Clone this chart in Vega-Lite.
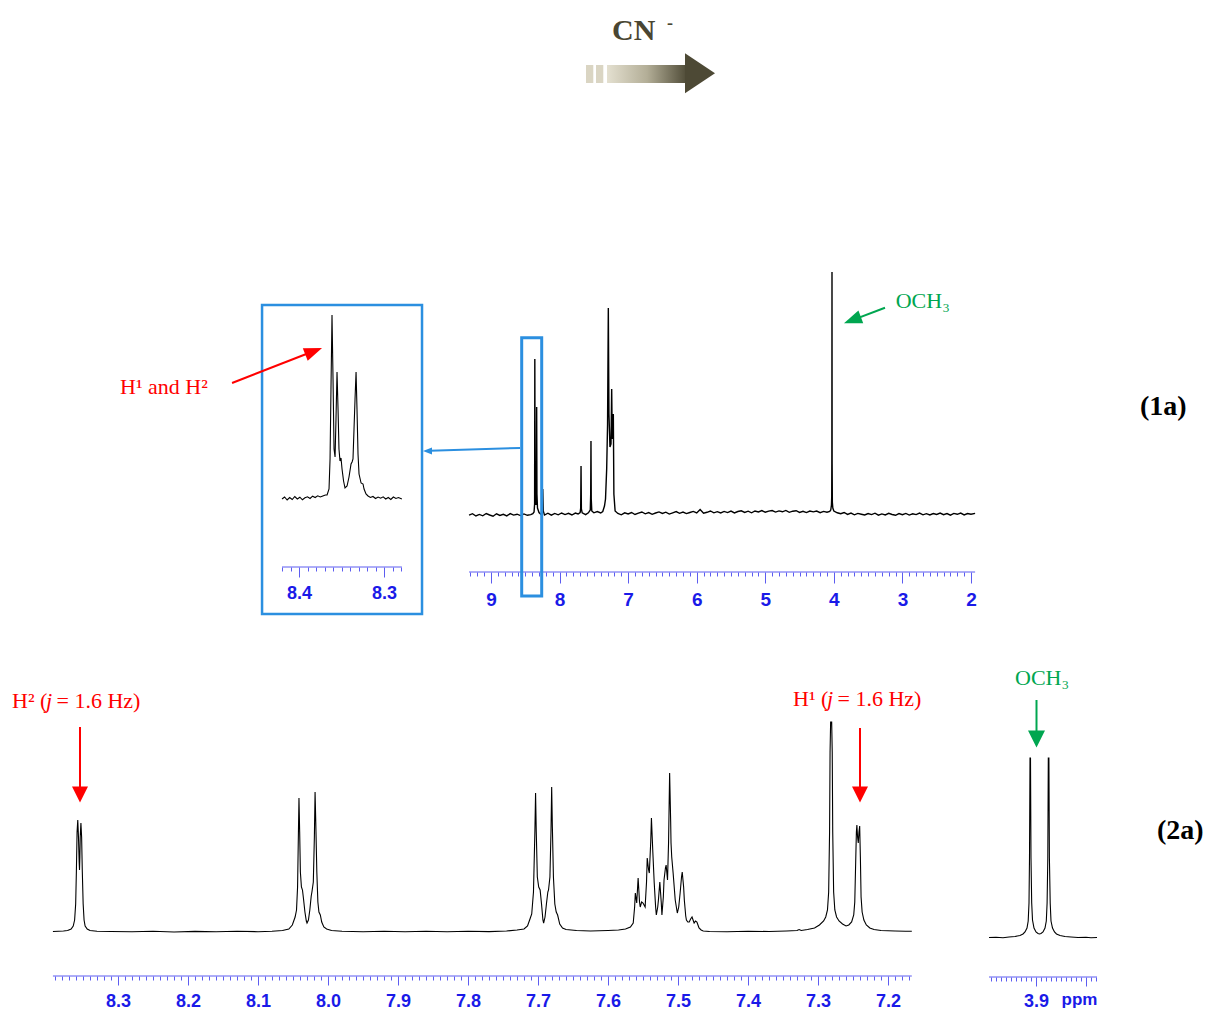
{
"$schema": "https://vega.github.io/schema/vega-lite/v6.json",
"width": 1208, "height": 1009, "padding": 0,
"autosize": {"type": "none"},
"background": "white",
"config": {"view": {"stroke": null},
 "axis": {"domain": false, "grid": false, "labelFont": "Liberation Sans", "labelFontWeight": "bold", "labelColor": "#1a1ae8", "tickColor": "#5c5cf0", "tickWidth": 1, "labelOverlap": false, "labelFlush": false, "labelBound": false, "labelAlign": "center"}},
"datasets": {
"s1a": [
{"ppm":9.32,"I":-1.2},{"ppm":9.27,"I":0.3},{"ppm":9.22,"I":-2.0},{"ppm":9.17,"I":-0.4},{"ppm":9.12,"I":-1.8},{"ppm":9.07,"I":0.5},{"ppm":9.02,"I":-1.0},{"ppm":8.97,"I":-2.2},{"ppm":8.92,"I":0.2},{"ppm":8.87,"I":-1.5},{"ppm":8.82,"I":-0.3},{"ppm":8.77,"I":-1.9},{"ppm":8.72,"I":0.4},{"ppm":8.67,"I":-1.1},{"ppm":8.62,"I":-0.2},{"ppm":8.57,"I":-1.6},{"ppm":8.52,"I":0.1},{"ppm":8.47,"I":-1.3},{"ppm":8.42,"I":-0.6},{"ppm":8.39,"I":0.4},
{"ppm":8.372,"I":2},{"ppm":8.364,"I":10},{"ppm":8.361,"I":155},{"ppm":8.357,"I":40},{"ppm":8.35,"I":15},{"ppm":8.344,"I":9},{"ppm":8.338,"I":30},{"ppm":8.334,"I":107},{"ppm":8.33,"I":20},{"ppm":8.322,"I":6},{"ppm":8.3,"I":1.5},{"ppm":8.27,"I":-0.5},{"ppm":8.252,"I":3},{"ppm":8.245,"I":25},{"ppm":8.238,"I":3},
{"ppm":8.22,"I":-1.0},{"ppm":8.17,"I":0.8},{"ppm":8.12,"I":-1.2},{"ppm":8.07,"I":0.6},{"ppm":8.02,"I":-0.8},{"ppm":7.97,"I":1.0},{"ppm":7.92,"I":-0.6},{"ppm":7.87,"I":0.7},{"ppm":7.82,"I":-1.0},{"ppm":7.77,"I":0.9},{"ppm":7.73,"I":0.0},{"ppm":7.7,"I":1.5},
{"ppm":7.692,"I":6},{"ppm":7.687,"I":48},{"ppm":7.682,"I":5},{"ppm":7.67,"I":1.2},{"ppm":7.62,"I":-0.6},{"ppm":7.58,"I":1.2},{"ppm":7.552,"I":4},{"ppm":7.546,"I":20},{"ppm":7.542,"I":73},{"ppm":7.538,"I":15},{"ppm":7.53,"I":3},{"ppm":7.5,"I":1.2},{"ppm":7.45,"I":2.5},{"ppm":7.4,"I":1.0},
{"ppm":7.37,"I":2.5},{"ppm":7.345,"I":8},{"ppm":7.33,"I":15},{"ppm":7.313,"I":45},{"ppm":7.3,"I":90},{"ppm":7.289,"I":206},{"ppm":7.28,"I":100},{"ppm":7.265,"I":67},{"ppm":7.25,"I":70},{"ppm":7.24,"I":125},{"ppm":7.232,"I":75},{"ppm":7.216,"I":100},{"ppm":7.208,"I":20},{"ppm":7.19,"I":3},{"ppm":7.15,"I":0.5},
{"ppm":7.1,"I":-0.8},{"ppm":7.05,"I":1.2},{"ppm":7.0,"I":0.0},{"ppm":6.95,"I":1.5},{"ppm":6.9,"I":-0.5},{"ppm":6.85,"I":0.8},{"ppm":6.8,"I":2.0},{"ppm":6.75,"I":0.2},{"ppm":6.7,"I":1.4},{"ppm":6.65,"I":-0.3},{"ppm":6.6,"I":1.0},{"ppm":6.55,"I":2.1},{"ppm":6.5,"I":0.6},{"ppm":6.45,"I":1.8},{"ppm":6.4,"I":-0.1},{"ppm":6.35,"I":1.2},{"ppm":6.3,"I":2.4},{"ppm":6.25,"I":0.7},{"ppm":6.2,"I":1.9},{"ppm":6.15,"I":0.4},{"ppm":6.1,"I":1.5},{"ppm":6.05,"I":2.6},{"ppm":6.0,"I":1.0},{"ppm":5.95,"I":4.5},{"ppm":5.9,"I":0.8},{"ppm":5.85,"I":1.7},{"ppm":5.8,"I":3.0},{"ppm":5.75,"I":1.2},{"ppm":5.7,"I":2.3},{"ppm":5.65,"I":1.0},{"ppm":5.6,"I":2.6},{"ppm":5.55,"I":1.4},{"ppm":5.5,"I":2.9},{"ppm":5.45,"I":1.1},{"ppm":5.4,"I":2.5},{"ppm":5.35,"I":3.2},{"ppm":5.3,"I":1.6},{"ppm":5.25,"I":2.8},{"ppm":5.2,"I":1.2},{"ppm":5.15,"I":3.0},{"ppm":5.1,"I":2.0},{"ppm":5.05,"I":3.4},{"ppm":5.0,"I":1.8},{"ppm":4.95,"I":2.9},{"ppm":4.9,"I":3.5},{"ppm":4.85,"I":1.9},{"ppm":4.8,"I":3.1},{"ppm":4.75,"I":2.2},{"ppm":4.7,"I":3.6},{"ppm":4.65,"I":1.7},{"ppm":4.6,"I":2.8},{"ppm":4.55,"I":3.3},{"ppm":4.5,"I":1.6},{"ppm":4.45,"I":2.7},{"ppm":4.4,"I":1.4},{"ppm":4.35,"I":3.0},{"ppm":4.3,"I":2.1},{"ppm":4.25,"I":2.9},{"ppm":4.2,"I":1.3},{"ppm":4.15,"I":2.6},{"ppm":4.1,"I":1.8},{"ppm":4.06,"I":2.5},
{"ppm":4.045,"I":4},{"ppm":4.035,"I":9},{"ppm":4.031,"I":17},{"ppm":4.029,"I":60},{"ppm":4.027,"I":242},{"ppm":4.025,"I":50},{"ppm":4.022,"I":12},{"ppm":4.015,"I":6},{"ppm":4.0,"I":3},
{"ppm":3.95,"I":1.2},{"ppm":3.9,"I":0.3},{"ppm":3.85,"I":1.5},{"ppm":3.8,"I":-0.4},{"ppm":3.75,"I":0.9},{"ppm":3.7,"I":-0.8},{"ppm":3.65,"I":0.6},{"ppm":3.6,"I":-0.2},{"ppm":3.55,"I":-1.0},{"ppm":3.5,"I":0.5},{"ppm":3.45,"I":-0.6},{"ppm":3.4,"I":0.8},{"ppm":3.35,"I":-1.2},{"ppm":3.3,"I":0.1},{"ppm":3.25,"I":-0.9},{"ppm":3.2,"I":0.7},{"ppm":3.15,"I":-0.5},{"ppm":3.1,"I":-1.3},{"ppm":3.05,"I":0.4},{"ppm":3.0,"I":-0.7},{"ppm":2.95,"I":0.6},{"ppm":2.9,"I":-1.1},{"ppm":2.85,"I":0.2},{"ppm":2.8,"I":-0.6},{"ppm":2.75,"I":0.9},{"ppm":2.7,"I":-0.8},{"ppm":2.65,"I":0.3},{"ppm":2.6,"I":-1.0},{"ppm":2.55,"I":0.5},{"ppm":2.5,"I":-0.4},{"ppm":2.45,"I":1.0},{"ppm":2.4,"I":-0.7},{"ppm":2.35,"I":0.4},{"ppm":2.3,"I":-1.2},{"ppm":2.25,"I":0.6},{"ppm":2.2,"I":-0.3},{"ppm":2.15,"I":0.9},{"ppm":2.1,"I":-0.9},{"ppm":2.05,"I":0.5},{"ppm":2.0,"I":-0.2},{"ppm":1.94,"I":0.6}
],
"inset": [
{"ppm":8.42,"I":0},{"ppm":8.417,"I":2},{"ppm":8.414,"I":-1},{"ppm":8.411,"I":1.5},{"ppm":8.408,"I":-0.5},{"ppm":8.405,"I":2.5},{"ppm":8.402,"I":0},{"ppm":8.399,"I":1.8},{"ppm":8.396,"I":-0.8},{"ppm":8.393,"I":1.2},{"ppm":8.39,"I":2.2},{"ppm":8.387,"I":0.5},{"ppm":8.384,"I":2.8},{"ppm":8.381,"I":1.5},{"ppm":8.378,"I":3.2},{"ppm":8.375,"I":2.0},{"ppm":8.372,"I":3.0},{"ppm":8.369,"I":4.0},
{"ppm":8.367,"I":4},{"ppm":8.3647,"I":10},{"ppm":8.3635,"I":40},{"ppm":8.3624,"I":110},{"ppm":8.3612,"I":184},{"ppm":8.36,"I":120},{"ppm":8.3588,"I":50},{"ppm":8.3576,"I":42},{"ppm":8.3565,"I":80},{"ppm":8.3553,"I":127},{"ppm":8.3541,"I":90},{"ppm":8.353,"I":50},{"ppm":8.3518,"I":38},{"ppm":8.3506,"I":41},{"ppm":8.3494,"I":30},{"ppm":8.3476,"I":18},{"ppm":8.3459,"I":11},{"ppm":8.3435,"I":13},{"ppm":8.3412,"I":22},{"ppm":8.3388,"I":35},{"ppm":8.3376,"I":37},{"ppm":8.3365,"I":40},{"ppm":8.3353,"I":70},{"ppm":8.3341,"I":100},{"ppm":8.3329,"I":127},{"ppm":8.3318,"I":90},{"ppm":8.3306,"I":45},{"ppm":8.3294,"I":25},{"ppm":8.327,"I":16},{"ppm":8.3247,"I":15},{"ppm":8.3235,"I":10},{"ppm":8.3212,"I":5},{"ppm":8.3188,"I":3},
{"ppm":8.316,"I":1.5},{"ppm":8.313,"I":2.5},{"ppm":8.31,"I":0.5},{"ppm":8.307,"I":2},{"ppm":8.304,"I":0.8},{"ppm":8.301,"I":2.2},{"ppm":8.298,"I":0},{"ppm":8.295,"I":1.5},{"ppm":8.292,"I":-0.5},{"ppm":8.289,"I":2},{"ppm":8.286,"I":0.5},{"ppm":8.283,"I":1.5},{"ppm":8.279,"I":0}
],
"s2a": [
{"ppm":8.393,"I":0.5},{"ppm":8.385,"I":0.8},{"ppm":8.378,"I":1},{"ppm":8.372,"I":1.5},{"ppm":8.367,"I":3},{"ppm":8.364,"I":6},{"ppm":8.362,"I":12},{"ppm":8.3605,"I":28},{"ppm":8.3595,"I":60},{"ppm":8.3585,"I":100},{"ppm":8.3575,"I":112},{"ppm":8.3565,"I":95},{"ppm":8.3555,"I":70},{"ppm":8.355,"I":62},{"ppm":8.3545,"I":75},{"ppm":8.354,"I":95},{"ppm":8.353,"I":109},{"ppm":8.352,"I":95},{"ppm":8.351,"I":60},{"ppm":8.3498,"I":28},{"ppm":8.3485,"I":12},{"ppm":8.347,"I":6},{"ppm":8.344,"I":3},{"ppm":8.34,"I":1.5},{"ppm":8.33,"I":0.8},{"ppm":8.31,"I":0.5},{"ppm":8.28,"I":0.2},{"ppm":8.25,"I":0.8},{"ppm":8.22,"I":0},{"ppm":8.19,"I":0.6},{"ppm":8.16,"I":0.2},{"ppm":8.13,"I":0.8},{"ppm":8.1,"I":0.3},{"ppm":8.08,"I":0.8},
{"ppm":8.065,"I":1.5},{"ppm":8.056,"I":3},{"ppm":8.051,"I":7},{"ppm":8.048,"I":13},{"ppm":8.047,"I":15},{"ppm":8.045,"I":22},{"ppm":8.0435,"I":45},{"ppm":8.0425,"I":90},{"ppm":8.0415,"I":134},{"ppm":8.0405,"I":100},{"ppm":8.0395,"I":60},{"ppm":8.038,"I":45},{"ppm":8.0365,"I":42},{"ppm":8.035,"I":33},{"ppm":8.033,"I":20},{"ppm":8.031,"I":11},{"ppm":8.03,"I":9},{"ppm":8.028,"I":12},{"ppm":8.026,"I":22},{"ppm":8.024,"I":36},{"ppm":8.023,"I":40},{"ppm":8.021,"I":50},{"ppm":8.0195,"I":95},{"ppm":8.0185,"I":140},{"ppm":8.0175,"I":110},{"ppm":8.016,"I":60},{"ppm":8.0145,"I":30},{"ppm":8.013,"I":20},{"ppm":8.011,"I":17},{"ppm":8.009,"I":10},{"ppm":8.006,"I":5},{"ppm":8.002,"I":3},{"ppm":7.995,"I":1.5},
{"ppm":7.98,"I":0.8},{"ppm":7.95,"I":0.3},{"ppm":7.92,"I":0.8},{"ppm":7.89,"I":0.2},{"ppm":7.86,"I":0.7},{"ppm":7.83,"I":0.2},{"ppm":7.8,"I":0.8},{"ppm":7.77,"I":0.4},{"ppm":7.745,"I":1},{"ppm":7.73,"I":2},{"ppm":7.72,"I":3},
{"ppm":7.715,"I":6},{"ppm":7.712,"I":12},{"ppm":7.711,"I":14},{"ppm":7.709,"I":18},{"ppm":7.7065,"I":40},{"ppm":7.7045,"I":100},{"ppm":7.7035,"I":139},{"ppm":7.7025,"I":100},{"ppm":7.701,"I":55},{"ppm":7.699,"I":45},{"ppm":7.697,"I":42},{"ppm":7.695,"I":28},{"ppm":7.693,"I":12},{"ppm":7.692,"I":9},{"ppm":7.69,"I":15},{"ppm":7.688,"I":28},{"ppm":7.686,"I":40},{"ppm":7.685,"I":42},{"ppm":7.683,"I":55},{"ppm":7.6815,"I":100},{"ppm":7.6805,"I":145},{"ppm":7.6795,"I":105},{"ppm":7.678,"I":55},{"ppm":7.676,"I":28},{"ppm":7.674,"I":20},{"ppm":7.672,"I":17},{"ppm":7.669,"I":8},{"ppm":7.665,"I":4},{"ppm":7.66,"I":2.5},{"ppm":7.645,"I":1.5},{"ppm":7.625,"I":1},{"ppm":7.6,"I":1.5},{"ppm":7.585,"I":2},{"ppm":7.575,"I":3},
{"ppm":7.568,"I":5},{"ppm":7.564,"I":9},{"ppm":7.562,"I":25},{"ppm":7.561,"I":39},{"ppm":7.559,"I":29},{"ppm":7.557,"I":54},{"ppm":7.555,"I":30},{"ppm":7.554,"I":25},{"ppm":7.552,"I":30},{"ppm":7.55,"I":29},{"ppm":7.547,"I":25},{"ppm":7.545,"I":50},{"ppm":7.544,"I":74},{"ppm":7.542,"I":62},{"ppm":7.541,"I":59},{"ppm":7.539,"I":90},{"ppm":7.538,"I":114},{"ppm":7.536,"I":80},{"ppm":7.534,"I":49},{"ppm":7.532,"I":25},{"ppm":7.531,"I":17},{"ppm":7.529,"I":25},{"ppm":7.528,"I":32},{"ppm":7.526,"I":50},{"ppm":7.524,"I":30},{"ppm":7.523,"I":17},{"ppm":7.521,"I":35},{"ppm":7.52,"I":52},{"ppm":7.518,"I":64},{"ppm":7.517,"I":67},{"ppm":7.515,"I":52},{"ppm":7.5135,"I":90},{"ppm":7.512,"I":159},{"ppm":7.5105,"I":110},{"ppm":7.51,"I":89},{"ppm":7.509,"I":75},{"ppm":7.507,"I":59},{"ppm":7.504,"I":32},{"ppm":7.501,"I":19},{"ppm":7.499,"I":25},{"ppm":7.497,"I":39},{"ppm":7.495,"I":55},{"ppm":7.494,"I":60},{"ppm":7.492,"I":45},{"ppm":7.491,"I":32},{"ppm":7.489,"I":16},{"ppm":7.488,"I":12},{"ppm":7.486,"I":10},{"ppm":7.484,"I":10},{"ppm":7.482,"I":13},{"ppm":7.48,"I":15},{"ppm":7.478,"I":11},{"ppm":7.477,"I":9},{"ppm":7.475,"I":11},{"ppm":7.473,"I":10},{"ppm":7.471,"I":6},{"ppm":7.47,"I":4},{"ppm":7.467,"I":2},{"ppm":7.464,"I":1},
{"ppm":7.455,"I":0.5},{"ppm":7.43,"I":0.3},{"ppm":7.4,"I":0.8},{"ppm":7.37,"I":0.5},{"ppm":7.345,"I":1},{"ppm":7.33,"I":1.5},{"ppm":7.327,"I":2.5},{"ppm":7.324,"I":1.5},{"ppm":7.315,"I":2.5},{"ppm":7.305,"I":4},{"ppm":7.298,"I":7},{"ppm":7.292,"I":11},{"ppm":7.289,"I":15},{"ppm":7.2865,"I":22},{"ppm":7.2848,"I":40},{"ppm":7.2835,"I":100},{"ppm":7.2828,"I":180},{"ppm":7.282,"I":210},{"ppm":7.2805,"I":210},{"ppm":7.2797,"I":180},{"ppm":7.279,"I":100},{"ppm":7.2777,"I":40},{"ppm":7.276,"I":22},{"ppm":7.2735,"I":15},{"ppm":7.27,"I":11},{"ppm":7.265,"I":8},{"ppm":7.26,"I":6},{"ppm":7.256,"I":7},{"ppm":7.252,"I":10},{"ppm":7.249,"I":17},{"ppm":7.2475,"I":30},{"ppm":7.2462,"I":70},{"ppm":7.2452,"I":100},{"ppm":7.2445,"I":107},{"ppm":7.2435,"I":95},{"ppm":7.2425,"I":89},{"ppm":7.2415,"I":100},{"ppm":7.2405,"I":106},{"ppm":7.2395,"I":75},{"ppm":7.2385,"I":35},{"ppm":7.237,"I":20},{"ppm":7.2345,"I":12},{"ppm":7.231,"I":7},{"ppm":7.226,"I":4},{"ppm":7.22,"I":2.5},{"ppm":7.21,"I":1.5},{"ppm":7.19,"I":1},{"ppm":7.175,"I":0.8},{"ppm":7.166,"I":0.8}
],
"s3": [
{"ppm":3.947,"I":0.5},{"ppm":3.94,"I":0.8},{"ppm":3.933,"I":0.3},{"ppm":3.927,"I":1},{"ppm":3.921,"I":1.5},{"ppm":3.916,"I":2.5},{"ppm":3.913,"I":4},{"ppm":3.911,"I":6},{"ppm":3.909,"I":10},{"ppm":3.9078,"I":17},{"ppm":3.907,"I":35},{"ppm":3.9065,"I":80},{"ppm":3.906,"I":180},{"ppm":3.9055,"I":180},{"ppm":3.905,"I":80},{"ppm":3.9043,"I":35},{"ppm":3.9035,"I":18},{"ppm":3.902,"I":10},{"ppm":3.9,"I":6},{"ppm":3.898,"I":4.5},{"ppm":3.8965,"I":4},{"ppm":3.895,"I":4.5},{"ppm":3.893,"I":6},{"ppm":3.891,"I":10},{"ppm":3.8897,"I":17},{"ppm":3.8889,"I":35},{"ppm":3.8882,"I":80},{"ppm":3.8877,"I":180},{"ppm":3.8871,"I":180},{"ppm":3.8866,"I":80},{"ppm":3.8858,"I":35},{"ppm":3.885,"I":17},{"ppm":3.8835,"I":10},{"ppm":3.8815,"I":6},{"ppm":3.8795,"I":4},{"ppm":3.876,"I":2.5},{"ppm":3.871,"I":1.5},{"ppm":3.865,"I":1},{"ppm":3.858,"I":0.5},{"ppm":3.85,"I":0.8},{"ppm":3.845,"I":0.3},{"ppm":3.839,"I":0.5}
]
},
"resolve": {"scale": {"x": "independent", "y": "independent"}, "axis": {"x": "independent", "y": "independent"}},
"layer": [
{"resolve": {"axis": {"x": "independent"}},
 "layer": [
 {"data": {"name": "s1a"}, "mark": {"type": "line", "color": "#000000", "strokeWidth": 1.4},
  "encoding": {
   "x": {"field": "ppm", "type": "quantitative", "scale": {"domain": [-1.4565, 16.1606], "reverse": true, "nice": false, "zero": false},
    "axis": {"orient": "bottom", "offset": -437, "title": null, "labelFontSize": 19, "labelPadding": 7, "tickSize": 11, "format": "d",
     "values": [9,8,7,6,5,4,3,2]}},
   "y": {"field": "I", "type": "quantitative", "scale": {"domain": [-495, 514], "nice": false, "zero": false}, "axis": null}}},
 {"data": {"values": [{"ppm": 9.32, "ppm2": 1.94, "I": -58}]}, "mark": {"type": "rule", "color": "#5c5cf0", "strokeWidth": 1},
  "encoding": {"x": {"field": "ppm", "type": "quantitative",
    "axis": {"orient": "bottom", "offset": -437, "title": null, "labels": false, "tickSize": 4,
     "values": [9.3,9.2,9.1,8.9,8.8,8.7,8.6,8.5,8.4,8.3,8.2,8.1,7.9,7.8,7.7,7.6,7.5,7.4,7.3,7.2,7.1,6.9,6.8,6.7,6.6,6.5,6.4,6.3,6.2,6.1,5.9,5.8,5.7,5.6,5.5,5.4,5.3,5.2,5.1,4.9,4.8,4.7,4.6,4.5,4.4,4.3,4.2,4.1,3.9,3.8,3.7,3.6,3.5,3.4,3.3,3.2,3.1,2.9,2.8,2.7,2.6,2.5,2.4,2.3,2.2,2.1]}},
   "x2": {"field": "ppm2"}, "y": {"field": "I", "type": "quantitative", "axis": null}}},
 {"data": {"values": [{"ppm": 8.5523, "ppm2": 8.2606, "I": 176.3, "I2": -82}]}, "mark": {"type": "rect", "filled": false, "color": "#2b8fe0", "strokeWidth": 3},
  "encoding": {"x": {"field": "ppm", "type": "quantitative", "axis": null}, "x2": {"field": "ppm2"}, "y": {"field": "I", "type": "quantitative", "axis": null}, "y2": {"field": "I2"}}},
 {"data": {"values": [{"ppm": 8.577, "ppm2": 9.889, "I": 66, "I2": 63.2}]}, "mark": {"type": "rule", "color": "#2b8fe0", "strokeWidth": 2},
  "encoding": {"x": {"field": "ppm", "type": "quantitative", "axis": null}, "x2": {"field": "ppm2"}, "y": {"field": "I", "type": "quantitative", "axis": null}, "y2": {"field": "I2"}}},
 {"data": {"values": [{"ppm": 9.926, "I": 63}]}, "mark": {"type": "point", "filled": true, "opacity": 1, "color": "#2b8fe0", "shape": "M 1 -0.8 L -1 0 L 1 0.8 Z", "size": 81},
  "encoding": {"x": {"field": "ppm", "type": "quantitative", "axis": null}, "y": {"field": "I", "type": "quantitative", "axis": null}}},
 {"data": {"values": [{"ppm": 3.254, "ppm2": 3.7295, "I": 206.3, "I2": 193.9}]}, "mark": {"type": "rule", "color": "#00a650", "strokeWidth": 2},
  "encoding": {"x": {"field": "ppm", "type": "quantitative", "axis": null}, "x2": {"field": "ppm2"}, "y": {"field": "I", "type": "quantitative", "axis": null}, "y2": {"field": "I2"}}},
 {"data": {"values": [{"ppm": 3.7295, "I": 193.9}]}, "mark": {"type": "point", "filled": true, "opacity": 1, "color": "#00a650", "shape": "M -1 -0.75 L 1 0 L -1 0.75 Z", "size": 324, "angle": 159.2},
  "encoding": {"x": {"field": "ppm", "type": "quantitative", "axis": null}, "y": {"field": "I", "type": "quantitative", "axis": null}}},
 {"data": {"values": [{"ppm": 3.098, "I": 206, "label": "OCH₃"}]}, "mark": {"type": "text", "align": "left", "baseline": "alphabetic", "font": "Liberation Serif", "fontSize": 22, "color": "#00a650"},
  "encoding": {"x": {"field": "ppm", "type": "quantitative", "axis": null}, "y": {"field": "I", "type": "quantitative", "axis": null}, "text": {"field": "label"}}},
 {"data": {"values": [{"ppm": 7.6146, "ppm2": 7.5081, "I": 449, "I2": 431}, {"ppm": 7.4687, "ppm2": 7.3623, "I": 449, "I2": 431}]}, "mark": {"type": "rect", "color": "#dad5c3"},
  "encoding": {"x": {"field": "ppm", "type": "quantitative", "axis": null}, "x2": {"field": "ppm2"}, "y": {"field": "I", "type": "quantitative", "axis": null}, "y2": {"field": "I2"}}},
 {"data": {"values": [{"ppm": 7.3083, "ppm2": 6.1416, "I": 449, "I2": 431}]}, "mark": {"type": "rect", "color": {"gradient": "linear", "x1": 0, "x2": 1, "y1": 0, "y2": 0, "stops": [{"offset": 0, "color": "#e4e0d0"}, {"offset": 0.5, "color": "#b3ae97"}, {"offset": 1, "color": "#4f4b37"}]}},
  "encoding": {"x": {"field": "ppm", "type": "quantitative", "axis": null}, "x2": {"field": "ppm2"}, "y": {"field": "I", "type": "quantitative", "axis": null}, "y2": {"field": "I2"}}},
 {"data": {"values": [{"ppm": 5.952, "I": 440.7}]}, "mark": {"type": "point", "filled": true, "opacity": 1, "color": "#4d4935", "shape": "M -0.75 -1 L 0.75 0 L -0.75 1 Z", "size": 1600},
  "encoding": {"x": {"field": "ppm", "type": "quantitative", "axis": null}, "y": {"field": "I", "type": "quantitative", "axis": null}}},
 {"data": {"values": [{"ppm": 7.2354, "I": 474, "label": "CN"}]}, "mark": {"type": "text", "align": "left", "baseline": "alphabetic", "font": "Liberation Serif", "fontWeight": "bold", "fontSize": 30, "color": "#4a4632"},
  "encoding": {"x": {"field": "ppm", "type": "quantitative", "axis": null}, "y": {"field": "I", "type": "quantitative", "axis": null}, "text": {"field": "label"}}},
 {"data": {"values": [{"ppm": 6.4333, "I": 485.5, "label": "-"}]}, "mark": {"type": "text", "align": "left", "baseline": "alphabetic", "font": "Liberation Serif", "fontWeight": "bold", "fontSize": 18, "color": "#4a4632"},
  "encoding": {"x": {"field": "ppm", "type": "quantitative", "axis": null}, "y": {"field": "I", "type": "quantitative", "axis": null}, "text": {"field": "label"}}},
 {"data": {"values": [{"ppm": -0.4648, "I": 99.5, "label": "(1a)"}]}, "mark": {"type": "text", "align": "left", "baseline": "alphabetic", "font": "Liberation Serif", "fontWeight": "bold", "fontSize": 28, "color": "#000000"},
  "encoding": {"x": {"field": "ppm", "type": "quantitative", "axis": null}, "y": {"field": "I", "type": "quantitative", "axis": null}, "text": {"field": "label"}}}
]},
{"resolve": {"axis": {"x": "independent"}},
 "layer": [
 {"data": {"name": "inset"}, "mark": {"type": "line", "color": "#000000", "strokeWidth": 1.1},
  "encoding": {
   "x": {"field": "ppm", "type": "quantitative", "scale": {"domain": [7.3306, 8.7518], "reverse": true, "nice": false, "zero": false},
    "axis": {"orient": "bottom", "offset": -442, "title": null, "labelFontSize": 18, "labelPadding": 7, "tickSize": 10, "format": ".1f",
     "values": [8.4, 8.3]}},
   "y": {"field": "I", "type": "quantitative", "scale": {"domain": [-510, 499], "nice": false, "zero": false}, "axis": null}}},
 {"data": {"values": [{"ppm": 8.42, "ppm2": 8.279, "I": -68}]}, "mark": {"type": "rule", "color": "#5c5cf0", "strokeWidth": 1},
  "encoding": {"x": {"field": "ppm", "type": "quantitative",
    "axis": {"orient": "bottom", "offset": -442, "title": null, "labels": false, "tickSize": 4,
     "values": [8.42,8.41,8.39,8.38,8.37,8.36,8.35,8.34,8.33,8.32,8.31,8.29,8.28]}},
   "x2": {"field": "ppm2"}, "y": {"field": "I", "type": "quantitative", "axis": null}}},
 {"data": {"values": [{"ppm": 8.4435, "ppm2": 8.2553, "I": 194, "I2": -115}]}, "mark": {"type": "rect", "filled": false, "color": "#2b8fe0", "strokeWidth": 2.5},
  "encoding": {"x": {"field": "ppm", "type": "quantitative", "axis": null}, "x2": {"field": "ppm2"}, "y": {"field": "I", "type": "quantitative", "axis": null}, "y2": {"field": "I2"}}},
 {"data": {"values": [{"ppm": 8.4788, "ppm2": 8.3824, "I": 116, "I2": 148}]}, "mark": {"type": "rule", "color": "#ff0000", "strokeWidth": 2},
  "encoding": {"x": {"field": "ppm", "type": "quantitative", "axis": null}, "x2": {"field": "ppm2"}, "y": {"field": "I", "type": "quantitative", "axis": null}, "y2": {"field": "I2"}}},
 {"data": {"values": [{"ppm": 8.3828, "I": 147.7}]}, "mark": {"type": "point", "filled": true, "opacity": 1, "color": "#ff0000", "shape": "M -1 -0.75 L 1 0 L -1 0.75 Z", "size": 324, "angle": -21.25},
  "encoding": {"x": {"field": "ppm", "type": "quantitative", "axis": null}, "y": {"field": "I", "type": "quantitative", "axis": null}}},
 {"data": {"values": [{"ppm": 8.6106, "I": 105.5, "label": "H¹ and H²"}]}, "mark": {"type": "text", "align": "left", "baseline": "alphabetic", "font": "Liberation Serif", "fontSize": 22, "color": "#ff0000"},
  "encoding": {"x": {"field": "ppm", "type": "quantitative", "axis": null}, "y": {"field": "I", "type": "quantitative", "axis": null}, "text": {"field": "label"}}}
]},
{"resolve": {"axis": {"x": "independent"}},
 "layer": [
 {"data": {"name": "s2a"}, "mark": {"type": "line", "color": "#000000", "strokeWidth": 1.1},
  "encoding": {
   "x": {"field": "ppm", "type": "quantitative", "scale": {"domain": [6.7429, 8.4686], "reverse": true, "nice": false, "zero": false},
    "axis": {"orient": "bottom", "offset": -33, "title": null, "labelFontSize": 18, "labelPadding": 7, "tickSize": 9, "format": ".1f",
     "values": [8.3,8.2,8.1,8.0,7.9,7.8,7.7,7.6,7.5,7.4,7.3,7.2]}},
   "y": {"field": "I", "type": "quantitative", "scale": {"domain": [-77, 932], "nice": false, "zero": false}, "axis": null}}},
 {"data": {"values": [{"ppm": 8.393, "ppm2": 7.166, "I": -44}]}, "mark": {"type": "rule", "color": "#5c5cf0", "strokeWidth": 1},
  "encoding": {"x": {"field": "ppm", "type": "quantitative",
    "axis": {"orient": "bottom", "offset": -33, "title": null, "labels": false, "tickSize": 4,
     "values": [8.39,8.38,8.37,8.36,8.35,8.34,8.33,8.32,8.31,8.29,8.28,8.27,8.26,8.25,8.24,8.23,8.22,8.21,8.19,8.18,8.17,8.16,8.15,8.14,8.13,8.12,8.11,8.09,8.08,8.07,8.06,8.05,8.04,8.03,8.02,8.01,7.99,7.98,7.97,7.96,7.95,7.94,7.93,7.92,7.91,7.89,7.88,7.87,7.86,7.85,7.84,7.83,7.82,7.81,7.79,7.78,7.77,7.76,7.75,7.74,7.73,7.72,7.71,7.69,7.68,7.67,7.66,7.65,7.64,7.63,7.62,7.61,7.59,7.58,7.57,7.56,7.55,7.54,7.53,7.52,7.51,7.49,7.48,7.47,7.46,7.45,7.44,7.43,7.42,7.41,7.39,7.38,7.37,7.36,7.35,7.34,7.33,7.32,7.31,7.29,7.28,7.27,7.26,7.25,7.24,7.23,7.22,7.21,7.19,7.18,7.17]}},
   "x2": {"field": "ppm2"}, "y": {"field": "I", "type": "quantitative", "axis": null}}},
 {"data": {"values": [{"ppm": 8.3543, "I": 205, "I2": 145}, {"ppm": 7.24, "I": 204, "I2": 145}]}, "mark": {"type": "rule", "color": "#ff0000", "strokeWidth": 2},
  "encoding": {"x": {"field": "ppm", "type": "quantitative", "axis": null}, "y": {"field": "I", "type": "quantitative", "axis": null}, "y2": {"field": "I2"}}},
 {"data": {"values": [{"ppm": 8.3543, "I": 137.5}, {"ppm": 7.24, "I": 137.5}]}, "mark": {"type": "point", "filled": true, "opacity": 1, "color": "#ff0000", "shape": "M -1 -1 L 1 -1 L 0 1 Z", "size": 256},
  "encoding": {"x": {"field": "ppm", "type": "quantitative", "axis": null}, "y": {"field": "I", "type": "quantitative", "axis": null}}},
 {"data": {"values": [{"ppm": 8.4514, "I": 223.7, "label": "H² ("}, {"ppm": 8.3879, "I": 223.7, "label": "= 1.6 Hz)"}, {"ppm": 7.3357, "I": 226, "label": "H¹ ("}, {"ppm": 7.2721, "I": 226, "label": "= 1.6 Hz)"}]}, "mark": {"type": "text", "align": "left", "baseline": "alphabetic", "font": "Liberation Serif", "fontSize": 22, "color": "#ff0000"},
  "encoding": {"x": {"field": "ppm", "type": "quantitative", "axis": null}, "y": {"field": "I", "type": "quantitative", "axis": null}, "text": {"field": "label"}}},
 {"data": {"values": [{"ppm": 8.4029, "I": 223.7, "label": "j"}, {"ppm": 7.2871, "I": 226, "label": "j"}]}, "mark": {"type": "text", "align": "left", "baseline": "alphabetic", "font": "Liberation Serif", "fontStyle": "italic", "fontSize": 22, "color": "#ff0000"},
  "encoding": {"x": {"field": "ppm", "type": "quantitative", "axis": null}, "y": {"field": "I", "type": "quantitative", "axis": null}, "text": {"field": "label"}}}
]},
{"resolve": {"axis": {"x": "independent"}},
 "layer": [
 {"data": {"name": "s3"}, "mark": {"type": "line", "color": "#000000", "strokeWidth": 1.1},
  "encoding": {
   "x": {"field": "ppm", "type": "quantitative", "scale": {"domain": [3.728, 4.936], "reverse": true, "nice": false, "zero": false},
    "axis": {"orient": "bottom", "offset": -32, "title": null, "labelFontSize": 18, "labelPadding": 6, "tickSize": 9, "format": ".1f",
     "values": [3.9]}},
   "y": {"field": "I", "type": "quantitative", "scale": {"domain": [-71, 938], "nice": false, "zero": false}, "axis": null}}},
 {"data": {"values": [{"ppm": 3.947, "ppm2": 3.839, "I": -39}]}, "mark": {"type": "rule", "color": "#5c5cf0", "strokeWidth": 1},
  "encoding": {"x": {"field": "ppm", "type": "quantitative",
    "axis": {"orient": "bottom", "offset": -32, "title": null, "labels": false, "tickSize": 4,
     "values": [3.945,3.94,3.935,3.93,3.925,3.92,3.915,3.91,3.905,3.895,3.89,3.885,3.88,3.875,3.87,3.865,3.86,3.855,3.845,3.84]}},
   "x2": {"field": "ppm2"}, "y": {"field": "I", "type": "quantitative", "axis": null}}},
 {"data": {"values": [{"ppm": 3.8565, "I": -66.5, "label": "ppm"}]}, "mark": {"type": "text", "align": "center", "baseline": "alphabetic", "font": "Liberation Sans", "fontWeight": "bold", "fontSize": 17, "color": "#1a1ae8"},
  "encoding": {"x": {"field": "ppm", "type": "quantitative",
    "axis": {"orient": "bottom", "offset": -32, "title": null, "labels": false, "tickSize": 9, "values": [3.85]}},
   "y": {"field": "I", "type": "quantitative", "axis": null}, "text": {"field": "label"}}},
 {"data": {"values": [{"ppm": 3.8995, "I": 238, "I2": 206}]}, "mark": {"type": "rule", "color": "#00a650", "strokeWidth": 2},
  "encoding": {"x": {"field": "ppm", "type": "quantitative", "axis": null}, "y": {"field": "I", "type": "quantitative", "axis": null}, "y2": {"field": "I2"}}},
 {"data": {"values": [{"ppm": 3.8995, "I": 199}]}, "mark": {"type": "point", "filled": true, "opacity": 1, "color": "#00a650", "shape": "M -1 -1 L 1 -1 L 0 1 Z", "size": 289},
  "encoding": {"x": {"field": "ppm", "type": "quantitative", "axis": null}, "y": {"field": "I", "type": "quantitative", "axis": null}}},
 {"data": {"values": [{"ppm": 3.921, "I": 253, "label": "OCH₃"}]}, "mark": {"type": "text", "align": "left", "baseline": "alphabetic", "font": "Liberation Serif", "fontSize": 22, "color": "#00a650"},
  "encoding": {"x": {"field": "ppm", "type": "quantitative", "axis": null}, "y": {"field": "I", "type": "quantitative", "axis": null}, "text": {"field": "label"}}},
 {"data": {"values": [{"ppm": 3.779, "I": 99, "label": "(2a)"}]}, "mark": {"type": "text", "align": "left", "baseline": "alphabetic", "font": "Liberation Serif", "fontWeight": "bold", "fontSize": 28, "color": "#000000"},
  "encoding": {"x": {"field": "ppm", "type": "quantitative", "axis": null}, "y": {"field": "I", "type": "quantitative", "axis": null}, "text": {"field": "label"}}}
]}
]
}
